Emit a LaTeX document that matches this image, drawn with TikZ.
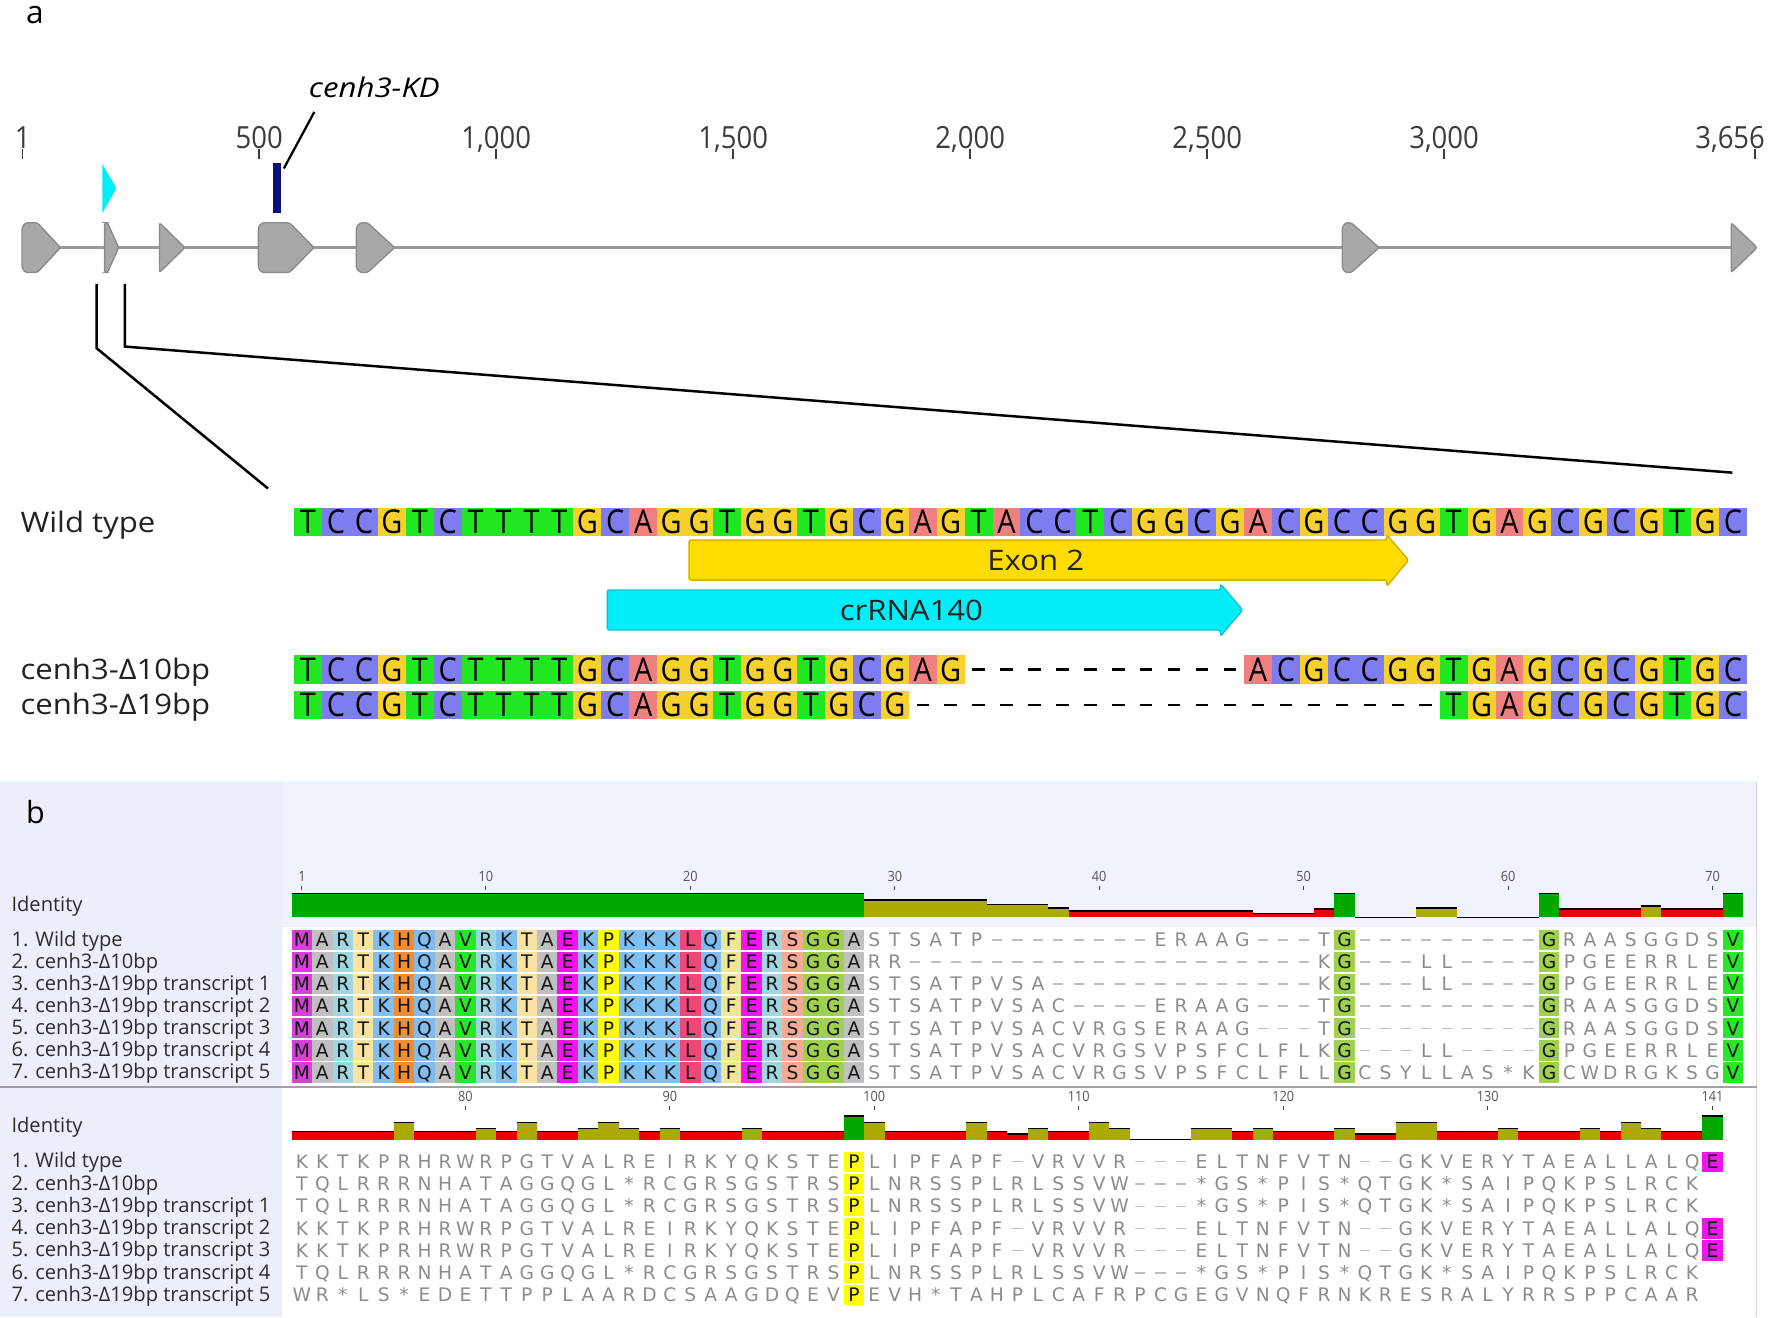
\documentclass[tikz,border=0pt]{standalone}
\usepackage{fontspec}
\setmainfont{Open Sans}
\newfontfamily\afont{Open Sans}[FakeStretch=1.1]
\newfontfamily\ntfont{Open Sans}[FakeStretch=0.88]
\newfontfamily\rfont{Open Sans}[FakeStretch=0.9]
\newfontfamily\kdfont{Open Sans}[FakeStretch=1.15]
\newfontfamily\resfont{DejaVu Sans}
% nucleotide colours
\definecolor{ntT}{RGB}{32,232,32}
\definecolor{ntC}{RGB}{125,125,240}
\definecolor{ntG}{RGB}{246,208,45}
\definecolor{ntA}{RGB}{240,128,128}
% residue colours
\definecolor{resM}{RGB}{214,64,214}
\definecolor{resA}{RGB}{192,192,192}
\definecolor{resR}{RGB}{160,214,226}
\definecolor{resT}{RGB}{250,226,160}
\definecolor{resK}{RGB}{128,192,240}
\definecolor{resH}{RGB}{240,140,50}
\definecolor{resQ}{RGB}{128,188,240}
\definecolor{resV}{RGB}{40,230,40}
\definecolor{resE}{RGB}{240,20,240}
\definecolor{resP}{RGB}{255,255,0}
\definecolor{resL}{RGB}{240,70,120}
\definecolor{resF}{RGB}{240,230,150}
\definecolor{resS}{RGB}{245,170,150}
\definecolor{resG}{RGB}{160,208,80}
% identity colours
\definecolor{idgreen}{RGB}{0,168,0}
\definecolor{idolive}{RGB}{170,170,0}
\definecolor{idred}{RGB}{235,0,0}
% misc
\definecolor{exgray}{RGB}{168,168,168}
\definecolor{exgrayd}{RGB}{138,138,138}
\definecolor{exline}{RGB}{152,152,152}
\definecolor{navybar}{RGB}{15,15,120}
\definecolor{cyanf}{RGB}{0,238,248}
\definecolor{cyand}{RGB}{0,196,212}
\definecolor{exony}{RGB}{255,220,0}
\definecolor{exonyd}{RGB}{208,172,0}
\definecolor{txtdark}{RGB}{34,34,34}
\definecolor{rulertxt}{RGB}{60,60,60}
\definecolor{bglav}{RGB}{240,242,252}
\definecolor{bglavb}{RGB}{236,239,250}
\definecolor{resgraytxt}{RGB}{140,140,140}
\definecolor{gapgray}{RGB}{190,190,190}
\definecolor{divgray}{RGB}{160,160,168}
\definecolor{bordergray}{RGB}{215,217,225}
\usetikzlibrary{calc}
\tikzset{
  ntletter/.style={anchor=base,inner sep=0pt,text=black,font=\ntfont\fontsize{29}{32}\selectfont},
  seqlabel/.style={anchor=base west,inner sep=0pt,text=txtdark,font=\afont\fontsize{25}{30}\selectfont},
  featlabel/.style={inner sep=0pt,text=txtdark,font=\afont\fontsize{25}{30}\selectfont},
  rulerlabel/.style={anchor=base,inner sep=0pt,text=rulertxt,font=\rfont\fontsize{27}{30}\selectfont},
  rulertick/.style={draw=rulertxt,line width=1.4pt},
  exonshape/.style={fill=exgray,draw=exgrayd,line width=1.2pt,rounded corners=2pt},
  zoomline/.style={draw=black,line width=2.2pt},
  panellabel/.style={anchor=base west,inner sep=0pt,text=black,font=\fontsize{28}{32}\selectfont},
  protlabel/.style={anchor=base west,inner sep=0pt,text={rgb,255:red,45;green,45;blue,45},font=\fontsize{17.8}{20}\selectfont},
  reshl/.style={anchor=base,inner sep=0pt,text={rgb,255:red,20;green,20;blue,20},font=\resfont\fontsize{16.5}{18}\selectfont},
  resgray/.style={anchor=base,inner sep=0pt,text=resgraytxt,font=\resfont\fontsize{16.5}{18}\selectfont},
  gapline/.style={draw=gapgray,line width=1.2pt},
  smallruler/.style={anchor=base,inner sep=0pt,text={rgb,255:red,85;green,85;blue,85},font=\rfont\fontsize{12.5}{14}\selectfont},
  smalltick/.style={draw={rgb,255:red,70;green,70;blue,70},line width=1pt},
}
% DNA row: #1 y centre, #2 name prefix, #3 list macro
\newcommand\dnarow[3]{%
  \foreach \ch [count=\i] in #3 {%
    \pgfmathsetmacro\xc{260+(\i-0.5)*24.712}%
    \if-\ch
      \draw[line width=2pt] (\xc-5.5,#1) -- (\xc+5.5,#1);
    \else
      \fill[fill=nt\ch] (\xc-12.4,#1-12.6) rectangle (\xc+12.4,#1+12.6);
      \node[ntletter] (#2\i) at (\xc,#1+10.4) {\ch};
    \fi
  }}
% protein row: #1 y centre, #2 block (1 top, 2 bottom), #3 name prefix, #4 list macro
\newcommand\protrow[4]{%
  \foreach \ch [count=\i] in #4 {%
    \pgfmathsetmacro\xc{267+(\i-1)*18.08}%
    \def\hlflag{0}%
    \ifnum#2=1 \ifnum\i<29 \def\hlflag{1}\fi\ifnum\i=52 \def\hlflag{1}\fi\ifnum\i=62 \def\hlflag{1}\fi\ifnum\i=71 \def\hlflag{1}\fi\fi
    \ifnum#2=2 \ifnum\i=28 \def\hlflag{1}\fi\ifnum\i=70 \def\hlflag{1}\fi\fi
    \if-\ch
      \draw[gapline] (\xc-4.5,#1) -- (\xc+4.5,#1);
    \else
      \ifnum\hlflag=1
        \fill[fill=res\ch] (\xc-9.04,#1-9) rectangle (\xc+9.04,#1+9);
        \node[reshl] (#3\i) at (\xc,#1+6) {\ch};
      \else
        \node[resgray] (#3\i) at (\xc,#1+6) {\ch};
      \fi
    \fi
  }}
% identity graph: #1 baseline y, #2 list macro
\newcommand\identgraph[2]{%
  \foreach \v [count=\i] in #2 {%
    \pgfmathsetmacro\xl{258+(\i-1)*18.08}%
    \pgfmathsetmacro\xrr{\xl+18.08}%
    \ifnum\v=0
      \draw[line width=1.2pt] (\xl,#1) -- (\xrr,#1);
    \else
      \pgfmathsetmacro\bh{2+19*\v/100}%
      \ifnum\v=100 \def\bc{idgreen}\else\ifnum\v<30 \def\bc{idred}\else\def\bc{idolive}\fi\fi
      \fill[fill=\bc] (\xl,#1) rectangle (\xrr,#1-\bh);
      \draw[line width=1.2pt] (\xl,#1-\bh) -- (\xrr,#1-\bh);
    \fi
  }}
% sequences
\def\wtseq{T,C,C,G,T,C,T,T,T,T,G,C,A,G,G,T,G,G,T,G,C,G,A,G,T,A,C,C,T,C,G,G,C,G,A,C,G,C,C,G,G,T,G,A,G,C,G,C,G,T,G,C}
\def\dtenseq{T,C,C,G,T,C,T,T,T,T,G,C,A,G,G,T,G,G,T,G,C,G,A,G,-,-,-,-,-,-,-,-,-,-,A,C,G,C,C,G,G,T,G,A,G,C,G,C,G,T,G,C}
\def\dnineseq{T,C,C,G,T,C,T,T,T,T,G,C,A,G,G,T,G,G,T,G,C,G,-,-,-,-,-,-,-,-,-,-,-,-,-,-,-,-,-,-,-,T,G,A,G,C,G,C,G,T,G,C}
\def\pre{M,A,R,T,K,H,Q,A,V,R,K,T,A,E,K,P,K,K,K,L,Q,F,E,R,S,G,G,A}
\edef\topA{\pre,S,T,S,A,T,P,-,-,-,-,-,-,-,-,E,R,A,A,G,-,-,-,T,G,-,-,-,-,-,-,-,-,-,G,R,A,A,S,G,G,D,S,V}
\edef\topB{\pre,R,R,-,-,-,-,-,-,-,-,-,-,-,-,-,-,-,-,-,-,-,-,K,G,-,-,-,L,L,-,-,-,-,G,P,G,E,E,R,R,L,E,V}
\edef\topC{\pre,S,T,S,A,T,P,V,S,A,-,-,-,-,-,-,-,-,-,-,-,-,-,K,G,-,-,-,L,L,-,-,-,-,G,P,G,E,E,R,R,L,E,V}
\edef\topD{\pre,S,T,S,A,T,P,V,S,A,C,-,-,-,-,E,R,A,A,G,-,-,-,T,G,-,-,-,-,-,-,-,-,-,G,R,A,A,S,G,G,D,S,V}
\edef\topE{\pre,S,T,S,A,T,P,V,S,A,C,V,R,G,S,E,R,A,A,G,-,-,-,T,G,-,-,-,-,-,-,-,-,-,G,R,A,A,S,G,G,D,S,V}
\edef\topF{\pre,S,T,S,A,T,P,V,S,A,C,V,R,G,S,V,P,S,F,C,L,F,L,K,G,-,-,-,L,L,-,-,-,-,G,P,G,E,E,R,R,L,E,V}
\edef\topG{\pre,S,T,S,A,T,P,V,S,A,C,V,R,G,S,V,P,S,F,C,L,F,L,L,G,C,S,Y,L,L,A,S,*,K,G,C,W,D,R,G,K,S,G,V}
\def\botA{K,K,T,K,P,R,H,R,W,R,P,G,T,V,A,L,R,E,I,R,K,Y,Q,K,S,T,E,P,L,I,P,F,A,P,F,-,V,R,V,V,R,-,-,-,E,L,T,N,F,V,T,N,-,-,G,K,V,E,R,Y,T,A,E,A,L,L,A,L,Q,E}
\def\botB{T,Q,L,R,R,R,N,H,A,T,A,G,G,Q,G,L,*,R,C,G,R,S,G,S,T,R,S,P,L,N,R,S,S,P,L,R,L,S,S,V,W,-,-,-,*,G,S,*,P,I,S,*,Q,T,G,K,*,S,A,I,P,Q,K,P,S,L,R,C,K}
\def\botC{W,R,*,L,S,*,E,D,E,T,T,P,P,L,A,A,R,D,C,S,A,A,G,D,Q,E,V,P,E,V,H,*,T,A,H,P,L,C,A,F,R,P,C,G,E,G,V,N,Q,F,R,N,K,R,E,S,R,A,L,Y,R,R,S,P,P,C,A,A,R}
\def\idtop{100,100,100,100,100,100,100,100,100,100,100,100,100,100,100,100,100,100,100,100,100,100,100,100,100,100,100,100,71,71,71,71,71,71,50,50,50,33,20,20,20,20,20,20,20,20,20,9,9,9,29,100,0,0,0,33,33,0,0,0,0,100,29,29,29,29,43,29,29,29,100}
\def\idbot{29,29,29,29,29,71,29,29,29,43,29,71,29,29,43,71,43,29,43,29,29,29,43,29,29,29,29,100,71,29,29,29,29,71,29,17,43,29,29,71,43,0,0,0,43,43,29,43,29,29,29,43,17,17,71,71,29,29,29,43,29,29,29,43,29,71,43,29,29,100}
\begin{document}
\begin{tikzpicture}[x=1pt,y=-1pt]
\useasboundingbox (0,0) rectangle (1568,1165);
%%%%%%%%%%%%%%%% panel a
\node[panellabel] (la) at (23,21) {a};
% ruler
\foreach \xp/\lab [count=\k] in {20/1,229.2/500,438.8/{1,000},648.4/{1,500},858.0/{2,000},1067.6/{2,500},1277.1/{3,000}} {
  \node[rulerlabel] (rl\k) at (\xp,131) {\lab};
  \draw[rulertick] (\xp,132) -- (\xp,141);
}
\node[rulerlabel,anchor=base east] (rl8) at (1561,131) {3,656};
\draw[rulertick] (1552,132) -- (1552,141);
% gene model
\draw[draw=exline,line width=2.6pt] (20,219) -- (1545,219);
\draw[exonshape] (19.5,201) -- (22.5,197) -- (33,197) -- (53.5,219) -- (33,241) -- (22.5,241) -- (19.5,237) -- cycle;
\draw[exonshape] (92.5,197) -- (95,197) -- (105,219) -- (95,241) -- (92.5,241) -- cycle;
\draw[exonshape] (141,197) -- (163.5,219) -- (141,241) -- cycle;
\draw[exonshape] (228.5,201) -- (231.5,197) -- (256,197) -- (277.7,219) -- (256,241) -- (231.5,241) -- (228.5,237) -- cycle;
\draw[exonshape] (315,201) -- (318.5,197) -- (325,197) -- (349,219) -- (325,241) -- (318.5,241) -- (315,237) -- cycle;
\draw[exonshape] (1187,201) -- (1190,197) -- (1195,197) -- (1219.6,219) -- (1195,241) -- (1190,241) -- (1187,237) -- cycle;
\draw[exonshape] (1531,197) -- (1554,219) -- (1531,241) -- cycle;
% crRNA marker and KD marker
\fill[fill=cyanf] (90.5,145) -- (103,166.5) -- (90.5,188.5) -- cycle;
\fill[fill=navybar] (241,144) rectangle (248.5,188);
\coordinate (kdA) at (251,149);
\coordinate (kdB) at (278,99);
\draw[line width=2pt] (kdA) -- (kdB);
\node[anchor=base west,inner sep=0pt,font=\kdfont\itshape\fontsize{24}{28}\selectfont] (kdlbl) at (273,86) {cenh3-KD};
% zoom lines
\coordinate (zl1) at (85.5,251);
\coordinate (zl2) at (85.5,308);
\coordinate (zl3) at (237,432);
\coordinate (zr1) at (110.5,251);
\coordinate (zr2) at (110.5,306.5);
\coordinate (zr3) at (1532,418);
\draw[zoomline] (zl1) -- (zl2) -- (zl3);
\draw[zoomline] (zr1) -- (zr2) -- (zr3);
% sequences
\node[seqlabel] (lwt) at (18,471) {Wild type};
\node[seqlabel] (l10) at (18,601) {cenh3-Δ10bp};
\node[seqlabel] (l19) at (18,632) {cenh3-Δ19bp};
\dnarow{461.8}{wt}{\wtseq}
\dnarow{592}{dt}{\dtenseq}
\dnarow{623.5}{dn}{\dnineseq}
% feature arrows
\draw[fill=exony,draw=exonyd,line width=1.2pt,rounded corners=2pt] (609.3,477.6) -- (1226.5,477.6) -- (1226.5,473) -- (1245.7,495.3) -- (1226.5,518.5) -- (1226.5,513) -- (609.3,513) -- cycle;
\node[featlabel] (exlbl) at (916,496) {Exon 2};
\draw[fill=cyanf,draw=cyand,line width=1.2pt,rounded corners=2pt] (537,521.8) -- (1079.4,521.8) -- (1079.4,516.5) -- (1099,539.5) -- (1079.4,562.5) -- (1079.4,557.2) -- (537,557.2) -- cycle;
\node[featlabel] (crlbl) at (806,540) {crRNA140};
%%%%%%%%%%%%%%%% panel b
\fill[bglav] (0,691) rectangle (1553.5,819.5);
\fill[bglavb] (0,691) rectangle (249,1165);
\draw[draw=bordergray,line width=1.5pt] (1553.5,691) -- (1553.5,1165);
\draw[draw=divgray,line width=1.8pt] (0,961.5) -- (1553.5,961.5);
\node[panellabel,font=\fontsize{27}{30}\selectfont] (lb) at (23,728) {b};
% top ruler
\foreach \ci/\lab in {1/1,10/10,20/20,30/30,40/40,50/50,60/60,70/70} {
  \pgfmathsetmacro\xc{267+(\ci-1)*18.08}
  \node[smallruler] (tr\lab) at (\xc,779.5) {\lab};
  \draw[smalltick] (\xc,783.5) -- (\xc,787.5);
}
\node[protlabel] (idt) at (10,806) {Identity};
\identgraph{811.3}{\idtop}
\node[protlabel] (p1) at (10,836.8) {1. Wild type};
\node[protlabel] (p2) at (10,856.3) {2. cenh3-Δ10bp};
\node[protlabel] (p3) at (10,875.8) {3. cenh3-Δ19bp transcript 1};
\node[protlabel] (p4) at (10,895.3) {4. cenh3-Δ19bp transcript 2};
\node[protlabel] (p5) at (10,914.9) {5. cenh3-Δ19bp transcript 3};
\node[protlabel] (p6) at (10,934.4) {6. cenh3-Δ19bp transcript 4};
\node[protlabel] (p7) at (10,954.0) {7. cenh3-Δ19bp transcript 5};
\protrow{831.3}{1}{ta}{\topA}
\protrow{850.8}{1}{tb}{\topB}
\protrow{870.3}{1}{tc}{\topC}
\protrow{889.8}{1}{td}{\topD}
\protrow{909.4}{1}{te}{\topE}
\protrow{928.9}{1}{tf}{\topF}
\protrow{948.5}{1}{tg}{\topG}
% bottom ruler
\foreach \ci/\lab in {9/80,19/90,29/100,39/110,49/120,59/130,70/141} {
  \pgfmathsetmacro\xc{267+(\ci-1)*18.08}
  \node[smallruler] (br\lab) at (\xc,974.3) {\lab};
  \draw[smalltick] (\xc,978) -- (\xc,982);
}
\node[protlabel] (idb) at (10,1001.5) {Identity};
\identgraph{1008}{\idbot}
\node[protlabel] (q1) at (10,1032.9) {1. Wild type};
\node[protlabel] (q2) at (10,1052.5) {2. cenh3-Δ10bp};
\node[protlabel] (q3) at (10,1072.2) {3. cenh3-Δ19bp transcript 1};
\node[protlabel] (q4) at (10,1091.8) {4. cenh3-Δ19bp transcript 2};
\node[protlabel] (q5) at (10,1111.5) {5. cenh3-Δ19bp transcript 3};
\node[protlabel] (q6) at (10,1131.2) {6. cenh3-Δ19bp transcript 4};
\node[protlabel] (q7) at (10,1150.8) {7. cenh3-Δ19bp transcript 5};
\protrow{1027.4}{2}{ba}{\botA}
\protrow{1047.0}{2}{bb}{\botB}
\protrow{1066.7}{2}{bc}{\botB}
\protrow{1086.3}{2}{bd}{\botA}
\protrow{1106.0}{2}{be}{\botA}
\protrow{1125.7}{2}{bf}{\botB}
\protrow{1145.3}{2}{bg}{\botC}
\end{tikzpicture}
\end{document}
